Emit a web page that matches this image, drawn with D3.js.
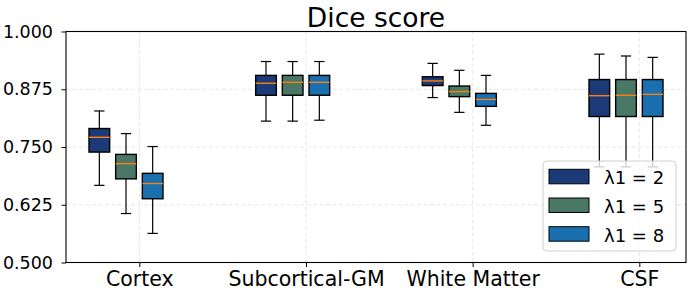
<!DOCTYPE html>
<html>
<head>
<meta charset="utf-8">
<script src="https://cdn.jsdelivr.net/npm/d3@7"></script>
<style>
  body { margin: 0; background: #fff; }
  text { font-family: "DejaVu Sans", sans-serif; }
</style>
</head>
<body>
<svg id="chart" width="690" height="291"></svg>
<script>
// categories and series (lambda1 settings)
const categories = ['Cortex', 'Subcortical-GM', 'White Matter', 'CSF']
const seriesNames = ['λ1 = 2', 'λ1 = 5', 'λ1 = 8']
const seriesColors = ['#1c3a78', '#4a7866', '#1a6faf']
const yTicks = [0.5, 0.625, 0.75, 0.875, 1.0]

// box stats per series: [whiskerLow, q1, median, q3, whiskerHigh], one per category
const lambda2 = [
    [0.667, 0.739, 0.771, 0.790, 0.828],
    [0.806, 0.862, 0.888, 0.905, 0.935],
    [0.857, 0.883, 0.893, 0.902, 0.931],
    [0.707, 0.816, 0.861, 0.896, 0.951]
]
const lambda5 = [
    [0.606, 0.681, 0.714, 0.734, 0.779],
    [0.806, 0.862, 0.890, 0.905, 0.935],
    [0.825, 0.859, 0.870, 0.882, 0.916],
    [0.707, 0.816, 0.862, 0.896, 0.947]
]
const lambda8 = [
    [0.563, 0.638, 0.671, 0.693, 0.751],
    [0.808, 0.862, 0.890, 0.905, 0.935],
    [0.797, 0.838, 0.853, 0.866, 0.905],
    [0.707, 0.816, 0.864, 0.896, 0.944]
]
const series = [lambda2, lambda5, lambda8]
const offsets = [-0.24, -0.08, 0.08]
const boxWidth = 0.124

const margin = { left: 66, right: 4, top: 31.5, bottom: 28.5 }
const width = 690, height = 291
const svg = d3.select('#chart')

const x = d3.scaleLinear().domain([-0.44, 3.28]).range([margin.left, width - margin.right])
const y = d3.scaleLinear().domain([0.5, 1.0]).range([height - margin.bottom, margin.top])

// grid
const grid = svg.append('g')
grid.selectAll('line.gy')
    .data(yTicks)
    .enter()
    .append('line')
    .attr('x1', x.range()[0]).attr('x2', x.range()[1])
    .attr('y1', d => y(d)).attr('y2', d => y(d))
    .attr('stroke', '#b0b0b0').attr('stroke-opacity', 0.35)
    .attr('stroke-dasharray', '4,2.5').attr('stroke-width', 0.9)
grid.selectAll('line.gx')
    .data(categories.map((c, i) => i))
    .enter()
    .append('line')
    .attr('x1', d => x(d)).attr('x2', d => x(d))
    .attr('y1', y.range()[0]).attr('y2', y.range()[1])
    .attr('stroke', '#b0b0b0').attr('stroke-opacity', 0.35)
    .attr('stroke-dasharray', '4,2.5').attr('stroke-width', 0.9)

// boxes
series.forEach((s, si) => {
    const g = svg.append('g')
    s.forEach((st, ci) => {
        const cx = x(ci + offsets[si])
        const hw = (x(boxWidth) - x(0)) / 2
        const cap = hw / 2
        const [lo, q1, med, q3, hi] = st
        g.append('line').attr('x1', cx).attr('x2', cx).attr('y1', y(q1)).attr('y2', y(lo))
            .attr('stroke', '#000').attr('stroke-width', 1.2)
        g.append('line').attr('x1', cx).attr('x2', cx).attr('y1', y(q3)).attr('y2', y(hi))
            .attr('stroke', '#000').attr('stroke-width', 1.2)
        g.append('line').attr('x1', cx - cap).attr('x2', cx + cap).attr('y1', y(lo)).attr('y2', y(lo))
            .attr('stroke', '#000').attr('stroke-width', 1.2)
        g.append('line').attr('x1', cx - cap).attr('x2', cx + cap).attr('y1', y(hi)).attr('y2', y(hi))
            .attr('stroke', '#000').attr('stroke-width', 1.2)
        g.append('rect')
            .attr('x', cx - hw).attr('width', hw * 2)
            .attr('y', y(q3)).attr('height', y(q1) - y(q3))
            .attr('fill', seriesColors[si]).attr('stroke', '#000').attr('stroke-width', 1.4)
        g.append('line').attr('x1', cx - hw).attr('x2', cx + hw).attr('y1', y(med)).attr('y2', y(med))
            .attr('stroke', '#ff7f0e').attr('stroke-width', 1.4)
    })
})

// axes
const yAxis = svg.append('g')
    .attr('transform', `translate(${margin.left},0)`)
    .call(d3.axisLeft(y).tickValues(yTicks).tickFormat(d3.format('.3f')).tickSizeOuter(0).tickSize(4.5).tickPadding(8.5))
yAxis.select('.domain').remove()
yAxis.selectAll('text').attr('font-size', 17.5).attr('fill', '#000').attr('font-family', 'DejaVu Sans')

const xAxis = svg.append('g')
    .attr('transform', `translate(0,${height - margin.bottom})`)
    .call(d3.axisBottom(x).tickValues(categories.map((c, i) => i)).tickFormat(i => categories[i]).tickSizeOuter(0).tickSize(4.5).tickPadding(4.5))
xAxis.select('.domain').remove()
xAxis.selectAll('text').attr('font-size', 20.5).attr('fill', '#000').attr('font-family', 'DejaVu Sans')

// frame
svg.append('rect')
    .attr('x', x.range()[0]).attr('y', y.range()[1])
    .attr('width', x.range()[1] - x.range()[0]).attr('height', y.range()[0] - y.range()[1])
    .attr('fill', 'none').attr('stroke', '#000').attr('stroke-width', 1.1)

// title
svg.append('text')
    .attr('x', (x.range()[0] + x.range()[1]) / 2).attr('y', 26.5)
    .attr('text-anchor', 'middle').attr('font-size', 26.5).text('Dice score')

// legend
const lg = svg.append('g').attr('transform', 'translate(543,161)')
lg.append('rect').attr('width', 133).attr('height', 90).attr('rx', 4)
    .attr('fill', '#fff').attr('fill-opacity', 0.8).attr('stroke', '#d0d0d0')
const items = lg.selectAll('g.item')
    .data(seriesNames)
    .enter()
    .append('g')
    .attr('transform', (d, i) => `translate(0,${8.3 + i * 28.7})`)
items.append('rect').attr('x', 6).attr('width', 40).attr('height', 14.5)
    .attr('fill', (d, i) => seriesColors[i]).attr('stroke', '#000').attr('stroke-width', 1)
items.append('text').attr('x', 61).attr('y', 14.8).attr('font-size', 18).text(d => d)
</script>
</body>
</html>
